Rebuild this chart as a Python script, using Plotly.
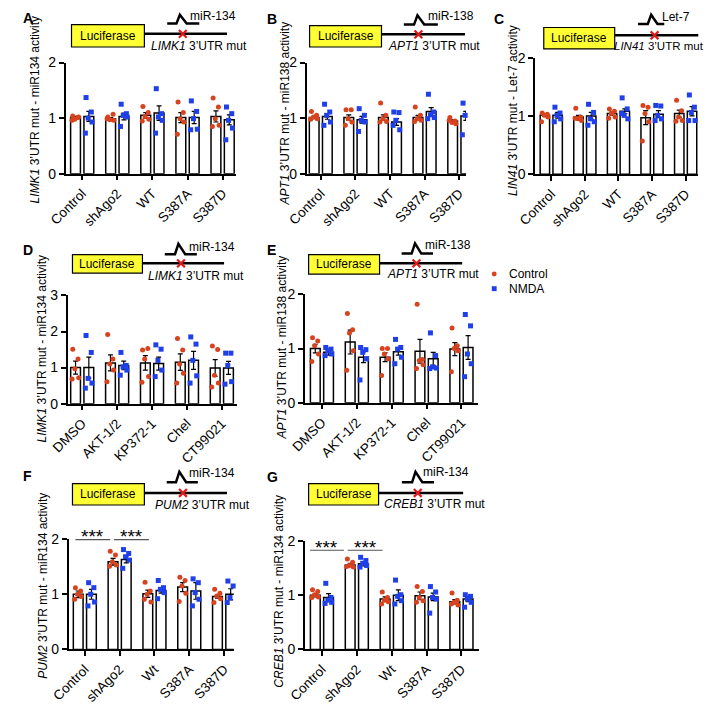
import plotly.graph_objects as go

W, H = 708, 705
RED = "#d8431f"
BLUE = "#1f3fe8"
FONT = "Liberation Sans, Arial, Helvetica, sans-serif"

# ---------------- data ----------------
cats_abc = ["Control", "shAgo2", "WT", "S387A", "S387D"]
cats_de = ["DMSO", "AKT-1/2", "KP372-1", "Chel", "CT99021"]
cats_fg = ["Control", "shAgo2", "Wt", "S387A", "S387D"]

# Panel A  (LIMK1 3'UTR mut - miR134)
A_ctrl_mean = [1.01, 0.99, 1.05, 1.01, 1.03]
A_ctrl_sem = [0.02, 0.02, 0.05, 0.09, 0.10]
A_nmda_mean = [1.03, 1.03, 1.09, 1.01, 0.97]
A_nmda_sem = [0.09, 0.06, 0.13, 0.11, 0.09]
A_ctrl_pts = [[1.04, 1.01, 0.98, 1.02, 0.96], [1.02, 1.07, 0.97, 0.96, 0.99],
              [1.21, 1.10, 1.03, 0.98, 0.95], [1.29, 1.10, 0.99, 0.93, 0.71],
              [1.36, 1.20, 0.99, 0.87, 0.85]]
A_nmda_pts = [[1.37, 1.11, 1.00, 0.93, 0.73], [1.25, 1.08, 1.05, 1.02, 0.85],
              [1.53, 1.08, 1.02, 0.96, 0.73], [1.31, 1.12, 0.99, 0.80, 0.79],
              [1.20, 1.08, 0.96, 0.82, 0.61]]

# Panel B  (APT1 3'UTR mut - miR138)
B_ctrl_mean = [1.01, 1.01, 1.01, 1.01, 0.95]
B_ctrl_sem = [0.02, 0.05, 0.05, 0.04, 0.02]
B_nmda_mean = [1.03, 0.97, 0.93, 1.12, 1.04]
B_nmda_sem = [0.05, 0.06, 0.06, 0.07, 0.08]
B_ctrl_pts = [[1.12, 1.05, 1.02, 0.99, 0.98], [1.15, 1.15, 0.99, 0.93, 0.87],
              [1.27, 1.05, 0.99, 0.94, 0.93], [1.20, 1.05, 0.99, 0.96, 0.94],
              [1.01, 0.95, 0.92, 0.90, 0.96]]
B_nmda_pts = [[1.25, 1.11, 1.05, 0.93, 0.87], [1.17, 1.05, 0.96, 0.93, 0.76],
              [1.11, 1.10, 0.96, 0.79, 0.87], [1.43, 1.11, 1.06, 1.01, 0.99],
              [1.27, 1.22, 1.05, 0.96, 0.70]]

# Panel C  (LIN41 3'UTR mut - Let-7)
C_ctrl_mean = [1.01, 0.98, 1.04, 0.97, 1.04]
C_ctrl_sem = [0.02, 0.03, 0.03, 0.12, 0.06]
C_nmda_mean = [1.01, 1.00, 1.08, 1.03, 1.08]
C_nmda_sem = [0.05, 0.06, 0.04, 0.06, 0.08]
C_ctrl_pts = [[1.05, 1.03, 1.01, 0.98, 0.90], [1.13, 0.98, 0.95, 0.92, 0.96],
              [1.12, 1.08, 1.04, 0.98, 0.96], [1.18, 1.15, 1.04, 0.90, 0.57],
              [1.27, 1.09, 0.98, 0.92, 0.91]]
C_nmda_pts = [[1.15, 1.05, 1.01, 0.95, 0.90], [1.20, 1.06, 0.95, 0.90, 0.84],
              [1.31, 1.12, 1.01, 0.95, 1.04], [1.18, 1.17, 1.01, 0.95, 0.92],
              [1.36, 1.15, 1.06, 0.92, 0.92]]

# Panel D  (LIMK1 3'UTR mut - miR134, inhibitors)
D_ctrl_mean = [1.00, 1.13, 1.13, 1.15, 0.99]
D_ctrl_sem = [0.18, 0.22, 0.20, 0.23, 0.23]
D_nmda_mean = [1.00, 1.06, 1.11, 1.20, 0.99]
D_nmda_sem = [0.29, 0.12, 0.18, 0.25, 0.18]
D_ctrl_pts = [[1.51, 1.24, 0.97, 0.72, 0.68], [1.92, 1.24, 1.10, 0.93, 0.61],
              [1.49, 1.53, 1.24, 0.75, 0.59], [1.81, 1.49, 1.10, 0.84, 0.57],
              [1.60, 1.50, 0.79, 0.57, 0.46]]
D_nmda_pts = [[1.89, 1.42, 0.70, 0.57, 0.43], [1.42, 1.06, 1.02, 0.93, 0.79],
              [1.63, 1.51, 1.20, 0.93, 0.75], [1.85, 1.65, 1.20, 0.77, 0.57],
              [1.40, 1.40, 1.06, 0.61, 0.54]]

# Panel E  (APT1 3'UTR mut - miR138, inhibitors)
E_ctrl_mean = [1.00, 1.12, 0.84, 0.95, 0.99]
E_ctrl_sem = [0.08, 0.22, 0.08, 0.22, 0.12]
E_nmda_mean = [0.93, 0.84, 0.94, 0.81, 1.02]
E_nmda_sem = [0.05, 0.10, 0.06, 0.12, 0.22]
E_ctrl_pts = [[1.20, 1.14, 1.05, 0.90, 0.76], [1.65, 1.35, 1.29, 0.96, 0.60],
              [1.00, 1.00, 0.90, 0.81, 0.50], [1.82, 0.80, 0.78, 0.70, 0.63],
              [1.38, 1.05, 1.00, 0.96, 0.57]]
E_nmda_pts = [[1.02, 0.99, 0.96, 0.90, 0.87], [1.02, 0.98, 0.93, 0.81, 0.42],
              [1.17, 1.02, 0.99, 0.84, 0.72], [1.29, 0.87, 0.66, 0.64, 0.63],
              [1.63, 1.42, 0.90, 0.72, 0.48]]

# Panel F  (PUM2 3'UTR mut - miR134)
F_ctrl_mean = [1.00, 1.59, 1.01, 1.13, 0.96]
F_ctrl_sem = [0.06, 0.06, 0.065, 0.08, 0.03]
F_nmda_mean = [1.00, 1.63, 1.07, 1.06, 1.00]
F_nmda_sem = [0.09, 0.06, 0.05, 0.15, 0.10]
F_ctrl_pts = [[1.12, 1.06, 1.00, 0.96, 0.91], [1.78, 1.71, 1.59, 1.53, 1.51],
              [1.22, 1.06, 1.00, 0.86, 0.91], [1.31, 1.25, 1.15, 1.02, 0.87],
              [1.09, 1.02, 0.97, 0.92, 0.85]]
F_nmda_pts = [[1.21, 1.12, 1.00, 0.86, 0.79], [1.81, 1.74, 1.68, 1.62, 1.47],
              [1.25, 1.12, 1.09, 1.03, 0.92], [1.28, 1.21, 1.03, 0.91, 0.79],
              [1.24, 1.15, 0.94, 0.88, 0.85]]

# Panel G  (CREB1 3'UTR mut - miR134)
G_ctrl_mean = [1.00, 1.56, 0.93, 0.99, 0.88]
G_ctrl_sem = [0.03, 0.03, 0.04, 0.07, 0.04]
G_nmda_mean = [0.96, 1.58, 1.00, 0.97, 0.93]
G_nmda_sem = [0.07, 0.04, 0.10, 0.07, 0.05]
G_ctrl_pts = [[1.10, 1.07, 1.01, 0.97, 0.96], [1.67, 1.61, 1.55, 1.52, 1.53],
              [1.06, 0.96, 0.91, 0.88, 0.84], [1.16, 1.07, 0.96, 0.90, 0.87],
              [1.04, 0.91, 0.87, 0.82, 0.84]]
G_nmda_pts = [[1.22, 0.96, 0.91, 0.87, 0.85], [1.70, 1.64, 1.59, 1.55, 1.52],
              [1.28, 1.01, 0.98, 0.90, 0.84], [1.16, 1.06, 0.96, 0.93, 0.67],
              [1.01, 0.98, 0.93, 0.87, 0.78]]

# ---------------- layout geometry (pixels) ----------------
def fx(px):
    return px / W


def fy(py):
    return 1 - py / H


JIT = [-0.08, 0.07, -0.02, 0.09, -0.10]   # horizontal jitter of dots within a bar
OFF = 0.19                                 # bar offset from group centre
BW = 0.28                                  # bar width

fig = go.Figure()
shapes, annos = [], []
axes_layout = {}


def add_panel(k, geo, cats, cm, cs, nm, ns, cp, npts, ymax, ytitle, letter, letter_pos, title_pos):
    xa = "x" if k == 1 else f"x{k}"
    ya = "y" if k == 1 else f"y{k}"
    sp = (geo["c4"] - geo["c0"]) / 4
    xr = [(geo["x0"] - geo["c0"]) / sp, (geo["x1"] - geo["c0"]) / sp]
    series = [(cm, cs, cp, -OFF, RED, "circle"), (nm, ns, npts, OFF, BLUE, "square")]
    for means, sems, pts, off, col, sym in series:
        fig.add_trace(go.Bar(
            x=[i + off for i in range(len(cats))], y=means, width=BW,
            marker=dict(color="white", line=dict(color="black", width=1.5)),
            error_y=dict(type="data", array=sems, color="black", thickness=1.2, width=2.5),
            xaxis=xa, yaxis=ya, showlegend=False, hoverinfo="skip"))
    for means, sems, pts, off, col, sym in series:
        xs, ys = [], []
        for i, grp in enumerate(pts):
            for j, v in enumerate(grp):
                xs.append(i + off + JIT[j % len(JIT)])
                ys.append(v)
        fig.add_trace(go.Scatter(
            x=xs, y=ys, mode="markers",
            marker=dict(color=col, symbol=sym, size=5, line=dict(width=0)),
            xaxis=xa, yaxis=ya, showlegend=False, hoverinfo="skip", cliponaxis=False))
    common = dict(showline=True, linewidth=1.5, linecolor="black", ticks="outside",
                  ticklen=5, tickwidth=1.5, tickcolor="black", showgrid=False,
                  zeroline=False, fixedrange=True)
    axes_layout["xaxis" if k == 1 else f"xaxis{k}"] = dict(
        domain=[fx(geo["x0"]), fx(geo["x1"])], range=xr, anchor=ya,
        tickvals=list(range(len(cats))), ticktext=cats, tickangle=-45,
        tickfont=dict(size=13.5, color="black", family=FONT), **common)
    axes_layout["yaxis" if k == 1 else f"yaxis{k}"] = dict(
        domain=[fy(geo["ybot"]), fy(geo["ytop"])], range=[0, ymax], anchor=xa,
        tickvals=list(range(ymax + 1)), tickfont=dict(size=14, color="black", family=FONT),
        **common)
    annos.append(dict(x=fx(title_pos[0]), y=fy(title_pos[1]), xref="paper", yref="paper",
                      text=ytitle, textangle=-90, showarrow=False,
                      font=dict(size=12, color="black", family=FONT),
                      xanchor="center", yanchor="middle"))
    annos.append(dict(x=fx(letter_pos[0]), y=fy(letter_pos[1]), xref="paper", yref="paper",
                      text=f"<b>{letter}</b>", showarrow=False,
                      font=dict(size=14, color="black", family=FONT),
                      xanchor="left", yanchor="middle"))


def diagram(d):
    bx0, by0, bx1, by1 = d["box"]
    shapes.append(dict(type="line", xref="paper", yref="paper", x0=fx(bx1), x1=fx(d["end"]),
                       y0=fy(d["ly"]), y1=fy(d["ly"]), line=dict(color="black", width=2.5)))
    shapes.append(dict(type="rect", xref="paper", yref="paper", x0=fx(bx0), x1=fx(bx1),
                       y0=fy(by1), y1=fy(by0), fillcolor="#ffff33",
                       line=dict(color="black", width=1.2)))
    base, p0, pu, pk, pd, p1 = d["bump"]
    path = (f"M {fx(p0)},{fy(base)} L {fx(pu)},{fy(base)} L {fx(pk[0])},{fy(pk[1])} "
            f"L {fx(pd)},{fy(base)} L {fx(p1)},{fy(base)}")
    shapes.append(dict(type="path", xref="paper", yref="paper", path=path,
                       line=dict(color="black", width=2.5)))
    cx, cy = d["x"]
    for s in (1, -1):
        shapes.append(dict(type="line", xref="paper", yref="paper",
                           x0=fx(cx - 4), x1=fx(cx + 4), y0=fy(cy - 4 * s), y1=fy(cy + 4 * s),
                           line=dict(color="#e01818", width=2.2)))
    annos.append(dict(x=fx((bx0 + bx1) / 2), y=fy((by0 + by1) / 2), xref="paper", yref="paper",
                      text="Luciferase", showarrow=False,
                      font=dict(size=12, color="black", family=FONT),
                      xanchor="center", yanchor="middle"))
    annos.append(dict(x=fx(d["mir"][0]), y=fy(d["mir"][1]), xref="paper", yref="paper",
                      text=d["mirtext"], showarrow=False,
                      font=dict(size=12, color="black", family=FONT),
                      xanchor="left", yanchor="middle"))
    annos.append(dict(x=fx(d["gene"][0]), y=fy(d["gene"][1]), xref="paper", yref="paper",
                      text=d["genetext"], showarrow=False,
                      font=dict(size=d.get("gsize", 12), color="black", family=FONT),
                      xanchor=d.get("ganchor", "left"), yanchor="middle"))


GEO = {
    "A": dict(x0=47, x1=222, c0=64, c4=208.5, ytop=56, ybot=170),
    "B": dict(x0=295, x1=459, c0=309.5, c4=452, ytop=56, ybot=170),
    "C": dict(x0=530, x1=698, c0=546.7, c4=685, ytop=51, ybot=170.5),
    "D": dict(x0=49, x1=223, c0=64, c4=207.7, ytop=295, ybot=406),
    "E": dict(x0=293, x1=471, c0=310.7, c4=454.3, ytop=294, ybot=405),
    "F": dict(x0=50, x1=220, c0=66.7, c4=210, ytop=545, ybot=658.3),
    "G": dict(x0=293, x1=472, c0=310.7, c4=454.3, ytop=547, ybot=658.3),
}

add_panel(1, GEO["A"], cats_abc, A_ctrl_mean, A_ctrl_sem, A_nmda_mean, A_nmda_sem,
          A_ctrl_pts, A_nmda_pts, 2, "<i>LIMK1</i> 3’UTR mut - miR134 activity", "A", (1, 10), (15.5, 105))
add_panel(2, GEO["B"], cats_abc, B_ctrl_mean, B_ctrl_sem, B_nmda_mean, B_nmda_sem,
          B_ctrl_pts, B_nmda_pts, 2, "<i>APT1</i> 3’UTR mut - miR138 activity", "B", (252, 11), (273, 108))
add_panel(3, GEO["C"], cats_abc, C_ctrl_mean, C_ctrl_sem, C_nmda_mean, C_nmda_sem,
          C_ctrl_pts, C_nmda_pts, 2, "<i>LIN41</i> 3’UTR mut - Let-7 activity", "C", (486, 11), (508, 105))
add_panel(4, GEO["D"], cats_de, D_ctrl_mean, D_ctrl_sem, D_nmda_mean, D_nmda_sem,
          D_ctrl_pts, D_nmda_pts, 3, "<i>LIMK1</i> 3’UTR mut - miR134 activity", "D", (1, 248.5), (23, 350))
add_panel(5, GEO["E"], cats_de, E_ctrl_mean, E_ctrl_sem, E_nmda_mean, E_nmda_sem,
          E_ctrl_pts, E_nmda_pts, 2, "<i>APT1</i> 3’UTR mut - miR138 activity", "E", (252, 248.5), (270, 348))
add_panel(6, GEO["F"], cats_fg, F_ctrl_mean, F_ctrl_sem, F_nmda_mean, F_nmda_sem,
          F_ctrl_pts, F_nmda_pts, 2, "<i>PUM2</i> 3’UTR mut - miR134 activity", "F", (1, 480), (23.5, 593))
add_panel(7, GEO["G"], cats_fg, G_ctrl_mean, G_ctrl_sem, G_nmda_mean, G_nmda_sem,
          G_ctrl_pts, G_nmda_pts, 2, "<i>CREB1</i> 3’UTR mut - miR134 activity", "G", (252, 481.5), (266.5, 598))

DIAGRAMS = [
    dict(box=(53, 17, 128, 40), ly=26.5, end=213, x=(167.5, 26.5),
         bump=(16, 151.5, 161, (164.5, 7), 171.5, 184.5), mir=(173, 8), mirtext="miR-134",
         gene=(133, 39), genetext="<i>LIMK1</i> 3’UTR mut"),
    dict(box=(298, 18, 372, 40), ly=27, end=458, x=(410, 27),
         bump=(17, 395, 405.5, (409, 7.5), 416, 430), mir=(418, 8.5), mirtext="miR-138",
         gene=(377, 39), genetext="<i>APT1</i> 3’UTR mut"),
    dict(box=(539, 20, 612, 42), ly=28, end=698, x=(653, 28),
         bump=(16.5, 636, 646, (649.5, 7), 656, 663), mir=(659, 9.5), mirtext="Let-7",
         gene=(706, 39), genetext="<i>LIN41</i> 3’UTR mut", gsize=11.5, ganchor="right"),
    dict(box=(54, 253, 126, 272), ly=262, end=210, x=(165.7, 262),
         bump=(252.7, 149, 159.5, (163, 242), 170, 182), mir=(172, 245), mirtext="miR-134",
         gene=(130, 275), genetext="<i>LIMK1</i> 3’UTR mut"),
    dict(box=(297, 253, 370, 273), ly=262, end=455, x=(408, 262),
         bump=(252, 392.7, 403, (406.5, 241.5), 413, 425), mir=(415, 243), mirtext="miR-138",
         gene=(376, 273), genetext="<i>APT1</i> 3’UTR mut"),
    dict(box=(54, 488, 128, 510), ly=497.7, end=213, x=(167.7, 497.7),
         bump=(486.7, 151, 160.5, (164, 476), 171, 183), mir=(171.7, 477), mirtext="miR-134",
         gene=(137, 510), genetext="<i>PUM2</i> 3’UTR mut"),
    dict(box=(297, 488, 369, 510), ly=497.7, end=456, x=(409.3, 497.7),
         bump=(486.7, 393, 403.5, (407, 476), 414, 426), mir=(413, 476), mirtext="miR-134",
         gene=(373, 509), genetext="<i>CREB1</i> 3’UTR mut"),
]
for d in DIAGRAMS:
    diagram(d)

# significance bars (panels F and G)
SIG = [("x6", "y6", 1.99, [(-0.27, 0.73), (0.84, 1.84)]),
       ("x7", "y7", 1.83, [(-0.34, 0.63), (0.74, 1.74)])]
for xr_, yr_, yl, segs in SIG:
    for a, b in segs:
        shapes.append(dict(type="line", xref=xr_, yref=yr_, x0=a, x1=b, y0=yl, y1=yl,
                           line=dict(color="#555555", width=1.2)))
        annos.append(dict(x=(a + b) / 2, y=yl, xref=xr_, yref=yr_, text="***", showarrow=False,
                          font=dict(size=19, color="black", family=FONT),
                          xanchor="center", yanchor="middle", yshift=3))

# legend
shapes.append(dict(type="circle", xref="paper", yref="paper", x0=fx(485.5), x1=fx(490.5),
                   y0=fy(275.5), y1=fy(270.5), fillcolor=RED, line=dict(width=0)))
shapes.append(dict(type="rect", xref="paper", yref="paper", x0=fx(485.5), x1=fx(490.5),
                   y0=fy(290.5), y1=fy(285.5), fillcolor=BLUE, line=dict(width=0)))
for txt, yy in (("Control", 273), ("NMDA", 288)):
    annos.append(dict(x=fx(501), y=fy(yy), xref="paper", yref="paper", text=txt,
                      showarrow=False, font=dict(size=12, color="black", family=FONT),
                      xanchor="left", yanchor="middle"))

fig.update_layout(
    width=W, height=H, margin=dict(l=0, r=0, t=0, b=0), autosize=False,
    paper_bgcolor="white", plot_bgcolor="white", barmode="overlay",
    showlegend=False, shapes=shapes, annotations=annos,
    font=dict(family=FONT, color="black"), **axes_layout)

fig.write_html("out.html", config={"displayModeBar": False},
               post_script="document.body.style.margin='0';document.body.style.padding='0';")
